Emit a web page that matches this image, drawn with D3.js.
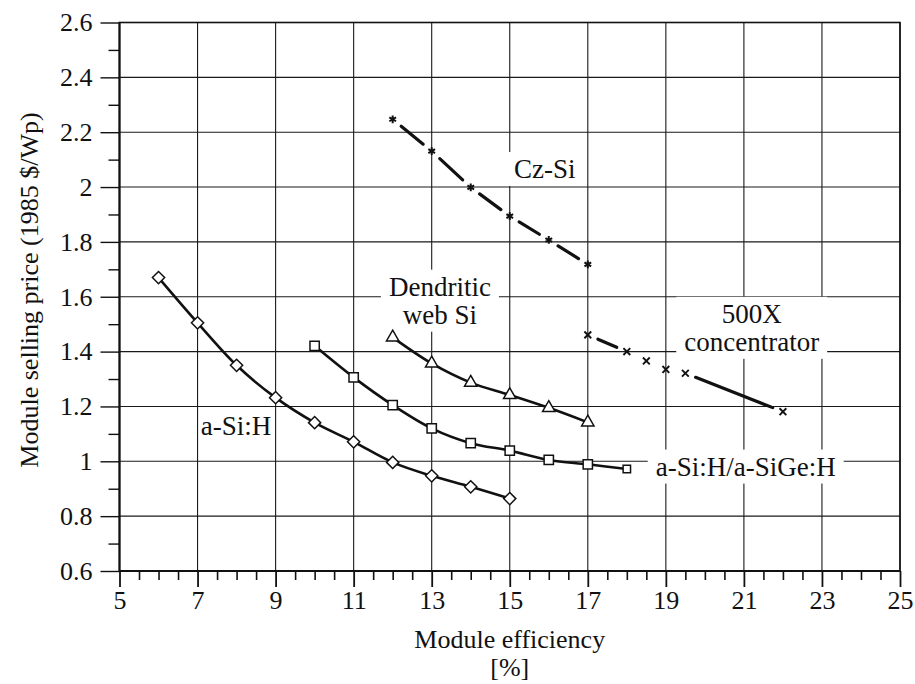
<!DOCTYPE html>
<html>
<head>
<meta charset="utf-8">
<script src="https://cdn.jsdelivr.net/npm/d3@7"></script>
<style>
  body { margin: 0; background: #fff; }
</style>
</head>
<body>
<svg id="chart"></svg>
<script>
// module efficiency (%) vs selling price (1985 $/Wp)
var aSiEff = [6, 7, 8, 9, 10, 11, 12, 13, 14, 15];
var aSiPrice = [1.67, 1.505, 1.35, 1.232, 1.141, 1.071, 0.996, 0.947, 0.907, 0.864];

var tandemEff = [10, 11, 12, 13, 14, 15, 16, 17, 18];
var tandemPrice = [1.421, 1.306, 1.205, 1.12, 1.066, 1.039, 1.005, 0.989, 0.972];

var webEff = [12, 13, 14, 15, 16, 17];
var webPrice = [1.452, 1.357, 1.287, 1.242, 1.195, 1.142];

var czEff = [12, 13, 14, 15, 16, 17];
var czPrice = [2.247, 2.131, 1.999, 1.894, 1.807, 1.718];

var concEff = [17, 18, 18.5, 19, 19.5, 22];
var concPrice = [1.461, 1.4, 1.366, 1.335, 1.321, 1.181];

var xTicks = [5, 7, 9, 11, 13, 15, 17, 19, 21, 23, 25];
var yTicks = [0.6, 0.8, 1, 1.2, 1.4, 1.6, 1.8, 2, 2.2, 2.4, 2.6];

var FONT = "Liberation Serif";
var INK = "#111";

var W = 915, H = 684;
var margin = {top: 22.5, right: 15, bottom: 113, left: 119.5};
var width = W - margin.left - margin.right,
    height = H - margin.top - margin.bottom;

var svg = d3.select("svg#chart")
  .attr("width", W)
  .attr("height", H);

var x = d3.scaleLinear().domain([5, 25]).range([0, width]);
var y = d3.scaleLinear().domain([0.6, 2.6]).range([height, 0]);

var g = svg.append("g").attr("transform", translate(margin.left, margin.top));

function zip(xs, ys) {
  return xs.map(function(v, i) { return {x: v, y: ys[i]}; });
}

// grid
var grid = g.append("g").attr("class", "grid");
grid.selectAll("line.h").data(yTicks).enter().append("line")
  .attr("x1", 0).attr("x2", width)
  .attr("y1", d => y(d)).attr("y2", d => y(d))
  .attr("stroke", "#1a1a1a").attr("stroke-width", 1.1);
grid.selectAll("line.v").data(xTicks).enter().append("line")
  .attr("y1", 0).attr("y2", height)
  .attr("x1", d => x(d)).attr("x2", d => x(d))
  .attr("stroke", "#1a1a1a").attr("stroke-width", 1.1);

// annotation labels (white boxes hide the grid behind most of them)
var labels = [
  {lines: ["Cz-Si"], x: 15.11, y: 2.033, anchor: "start", lh: 0, mask: true},
  {lines: ["Dendritic", "web Si"], x: 13.21, y: 1.604, anchor: "middle", lh: 28, mask: true},
  {lines: ["500X", "concentrator"], x: 21.2, y: 1.505, anchor: "middle", lh: 28, mask: true},
  {lines: ["a-Si:H/a-SiGe:H"], x: 18.74, y: 0.948, anchor: "start", lh: 0, mask: true},
  {lines: ["a-Si:H"], x: 7.08, y: 1.096, anchor: "start", lh: 0, mask: false}
];

var boxLayer = g.append("g");
var textLayer;

// axes
var yMinor = d3.range(0.7, 2.6, 0.2);
var xMinor = d3.range(5.5, 25, 0.5).filter(d => xTicks.indexOf(d) < 0);

g.append("g")
  .call(d3.axisLeft(y).tickValues(yMinor).tickSize(11).tickFormat(""))
  .call(a => a.select(".domain").remove())
  .selectAll("line").attr("stroke", INK).attr("stroke-width", 1.4);

g.append("g")
  .attr("transform", translate(0, height))
  .call(d3.axisBottom(x).tickValues(xMinor).tickSize(9).tickFormat(""))
  .call(a => a.select(".domain").remove())
  .selectAll("line").attr("stroke", INK).attr("stroke-width", 1.6);

var yAxis = g.append("g")
  .call(d3.axisLeft(y).tickValues(yTicks).tickSize(19).tickPadding(8)
    .tickFormat(d => String(+d.toFixed(1))));
yAxis.attr("font-family", FONT);
yAxis.select(".domain").remove();
yAxis.selectAll("line").attr("stroke", INK).attr("stroke-width", 1.4);
yAxis.selectAll("text").attr("font-size", 26).attr("font-family", FONT).attr("fill", INK);

var xAxis = g.append("g")
  .attr("transform", translate(0, height))
  .call(d3.axisBottom(x).tickValues(xTicks).tickSize(16).tickPadding(4).tickFormat(d3.format("d")));
xAxis.attr("font-family", FONT);
xAxis.select(".domain").remove();
xAxis.selectAll("line").attr("stroke", INK).attr("stroke-width", 1.8);
xAxis.selectAll("text").attr("font-size", 26).attr("font-family", FONT).attr("fill", INK);

// frame
g.append("rect")
  .attr("width", width).attr("height", height)
  .attr("fill", "none").attr("stroke", INK).attr("stroke-width", 1.6);
g.append("line").attr("x1", 0).attr("x2", 0).attr("y1", 0).attr("y2", height)
  .attr("stroke", INK).attr("stroke-width", 2);
g.append("line").attr("x1", 0).attr("x2", width).attr("y1", height).attr("y2", height)
  .attr("stroke", INK).attr("stroke-width", 2);

// text labels, one text element per line
textLayer = g.append("g");
labels.forEach(function(l) {
  var lg = textLayer.append("g");
  l.lines.forEach(function(s, i) {
    lg.append("text")
      .attr("x", x(l.x)).attr("y", y(l.y) + i * l.lh)
      .attr("text-anchor", l.anchor)
      .attr("font-family", FONT).attr("font-size", 27).attr("fill", INK)
      .text(s);
  });
  if (!l.mask) return;
  var bb = lg.node().getBBox();
  boxLayer.append("rect")
    .attr("x", bb.x - 8).attr("y", bb.y - 2)
    .attr("width", bb.width + 16).attr("height", bb.height + 4)
    .attr("fill", "#fff");
});

// smooth solid curves
var curve = d3.line().x(d => x(d.x)).y(d => y(d.y)).curve(d3.curveCatmullRom.alpha(0.5));

var solid = [
  {pts: zip(aSiEff, aSiPrice), sym: d3.symbolDiamond2},
  {pts: zip(tandemEff, tandemPrice), sym: d3.symbolSquare2},
  {pts: zip(webEff, webPrice), sym: d3.symbolTriangle2}
];

var lines = g.append("g");
solid.forEach(function(s) {
  lines.append("path").datum(s.pts)
    .attr("d", curve)
    .attr("fill", "none").attr("stroke", INK).attr("stroke-width", 2.6);
});

// broken lines: a dash between neighbouring points, cut back around the marks
function brokenSegments(pts, gap) {
  var segs = [];
  for (var i = 0; i < pts.length - 1; i++) {
    var x1 = x(pts[i].x), y1 = y(pts[i].y), x2 = x(pts[i + 1].x), y2 = y(pts[i + 1].y);
    var len = Math.hypot(x2 - x1, y2 - y1);
    if (len <= 2 * gap + 4) continue;
    var ux = (x2 - x1) / len, uy = (y2 - y1) / len;
    segs.push([x1 + ux * gap, y1 + uy * gap, x2 - ux * gap, y2 - uy * gap]);
  }
  return segs;
}

[zip(czEff, czPrice), zip(concEff, concPrice)].forEach(function(pts) {
  lines.selectAll(null).data(brokenSegments(pts, 11)).enter().append("line")
    .attr("x1", d => d[0]).attr("y1", d => d[1])
    .attr("x2", d => d[2]).attr("y2", d => d[3])
    .attr("stroke", INK).attr("stroke-width", 3.2).attr("stroke-linecap", "round");
});

// markers
var marks = g.append("g");
solid.forEach(function(s) {
  marks.selectAll(null).data(s.pts).enter().append("path")
    .attr("transform", d => translate(x(d.x), y(d.y)))
    .attr("d", function(d, i) {
      var size = 95;
      if (s.sym === d3.symbolSquare2) size = (i === s.pts.length - 1) ? 70 : 110;
      if (s.sym === d3.symbolTriangle2) size = 110;
      return d3.symbol(s.sym, size)();
    })
    .attr("fill", "#fff").attr("stroke", INK).attr("stroke-width", 1.5);
});

marks.selectAll(null).data(zip(czEff, czPrice)).enter().append("path")
  .attr("transform", d => translate(x(d.x), y(d.y)))
  .attr("d", d3.symbol(d3.symbolAsterisk, 42))
  .attr("fill", "none").attr("stroke", INK).attr("stroke-width", 2);

marks.selectAll(null).data(zip(concEff, concPrice)).enter().append("path")
  .attr("transform", d => translate(x(d.x), y(d.y)))
  .attr("d", d3.symbol(d3.symbolTimes, 32))
  .attr("fill", "none").attr("stroke", INK).attr("stroke-width", 1.9);

textLayer.raise();

// axis titles
svg.append("text")
  .attr("x", margin.left + width / 2).attr("y", 648)
  .attr("text-anchor", "middle")
  .attr("font-family", FONT).attr("font-size", 26).attr("fill", INK)
  .text("Module efficiency");
svg.append("text")
  .attr("x", margin.left + width / 2).attr("y", 676)
  .attr("text-anchor", "middle")
  .attr("font-family", FONT).attr("font-size", 26).attr("fill", INK)
  .text("[%]");
svg.append("text")
  .attr("transform", translate(38, 290) + " rotate(-90)")
  .attr("text-anchor", "middle")
  .attr("font-family", FONT).attr("font-size", 26).attr("fill", INK)
  .text("Module selling price (1985 $/Wp)");

/*
* returns a translate string for the transform attribute
*/
function translate(tx, ty) {
  return 'translate(' + String(tx) + ',' + String(ty) + ')';
}
</script>
</body>
</html>
